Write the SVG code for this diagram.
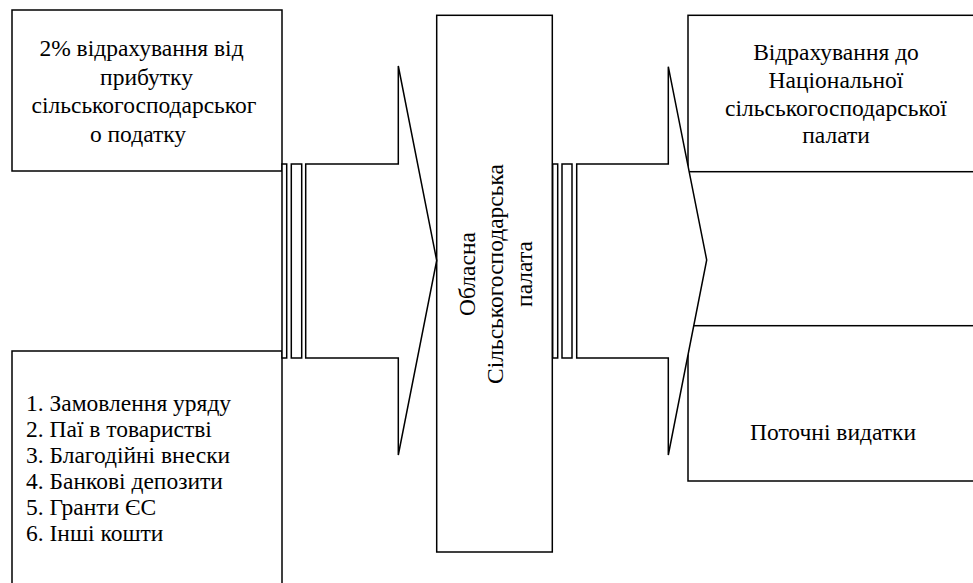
<svg xmlns="http://www.w3.org/2000/svg" width="973" height="583" viewBox="0 0 973 583">
  <style>
    .box { fill: #fff; stroke: #000; stroke-width: 1.5; }
    .arr { fill: #fff; stroke: #000; stroke-width: 1.5; stroke-linejoin: miter; }
    text { font-family: 'Liberation Serif', 'DejaVu Serif', serif; font-size: 23.5px; fill: #000; }
    .c { text-anchor: middle; }
  </style>
  <rect width="973" height="583" fill="#fff"/>

  <g id="node-source-top">
    <rect class="box" x="12" y="10" width="270" height="161"/>
    <text class="c" x="141.5" y="56">2% відрахування від</text>
    <text class="c" x="146.5" y="84.5">прибутку</text>
    <text class="c" x="144" y="113">сільськогосподарськог</text>
    <text class="c" x="138" y="141.5">о податку</text>
  </g>

  <g id="node-source-bottom">
    <rect class="box" x="12" y="351" width="270" height="250"/>
    <text x="26" y="411">1. Замовлення уряду</text>
    <text x="26" y="437">2. Паї в товаристві</text>
    <text x="26" y="463">3. Благодійні внески</text>
    <text x="26" y="489">4. Банкові депозити</text>
    <text x="26" y="515">5. Гранти ЄС</text>
    <text x="26" y="541">6. Інші кошти</text>
  </g>

  <g id="node-center">
    <rect class="box" x="436.7" y="15.3" width="115.6" height="536.7"/>
    <text class="c" transform="translate(475,274) rotate(-90)">Обласна</text>
    <text class="c" transform="translate(503,274) rotate(-90)">Сільськогосподарська</text>
    <text class="c" transform="translate(532,274) rotate(-90)">палата</text>
  </g>

  <g id="node-target-top">
    <rect class="box" x="688" y="15.3" width="300" height="156.4"/>
    <text class="c" x="836" y="60">Відрахування до</text>
    <text class="c" x="836" y="88">Національної</text>
    <text class="c" x="836" y="115.5">сільськогосподарської</text>
    <text class="c" x="836" y="143">палати</text>
  </g>

  <g id="node-target-bottom">
    <rect class="box" x="688" y="325.7" width="300" height="155.3"/>
    <text class="c" x="833" y="440">Поточні видатки</text>
  </g>

  <g id="connectors">
    <g id="arrow-left">
      <rect class="arr" x="282" y="164" width="4.7" height="194"/>
      <rect class="arr" x="291.3" y="164" width="10.4" height="194"/>
      <path class="arr" d="M305.7,164 H398.3 V66 L436.7,260.5 L398.3,455 V358 H305.7 Z"/>
    </g>
    <g id="arrow-right">
      <rect class="arr" x="552.7" y="164" width="5" height="194"/>
      <rect class="arr" x="562" y="164" width="10" height="194"/>
      <path class="arr" d="M576.7,164 H668.3 V66.7 L706.7,260 L668.3,455 V358 H576.7 Z"/>
    </g>
  </g>
</svg>
